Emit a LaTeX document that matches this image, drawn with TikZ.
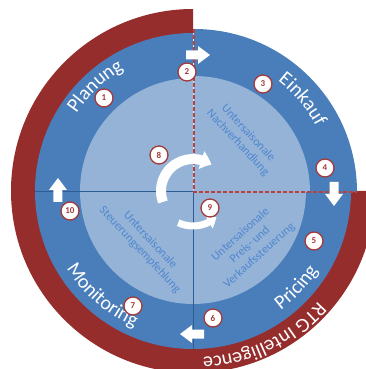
\documentclass[tikz,border=0pt]{standalone}
\usepackage{fontspec}
\setmainfont{Carlito}
\usetikzlibrary{arrows.meta}
\usetikzlibrary{bending}
\usetikzlibrary{decorations.text}

\definecolor{blueout}{HTML}{4A7EBB}
\definecolor{bluein}{HTML}{95B3D7}
\definecolor{ringred}{HTML}{962D2D}
\definecolor{divline}{HTML}{2E5D93}
\definecolor{dashred}{HTML}{B8403D}
\definecolor{innerblue}{HTML}{4F86CF}
\definecolor{numred}{HTML}{A33A3A}

\newcommand{\ringfont}{\fontsize{20}{24}\selectfont}

\begin{document}
\begin{tikzpicture}[x=1pt,y=1pt,
  num/.style={circle, draw=numred, line width=1.3pt, fill=white, inner sep=0pt, minimum size=18pt, text=numred, font=\fontsize{9}{9}\selectfont\bfseries},
  innertext/.style={text=innerblue, align=center, font=\fontsize{12}{14}\selectfont},
  ringtext/.style={decorate, decoration={text along path, text align=center, text color=white, text={#1}}}
]
\useasboundingbox (-193,-178) rectangle (173,191);
\clip (-193,-178) rectangle (173,191);

% red ring
\fill[ringred] (90:182pt) arc[start angle=90, end angle=360, radius=182pt] -- (0:156pt) arc[start angle=360, end angle=90, radius=156pt] -- cycle;

% quadrants
\fill[blueout] (0,0) -- (90:158pt) arc[start angle=90, end angle=360, radius=158pt] -- cycle;
\fill[blueout] (1,-1) -- ++(163,0) arc[start angle=0, end angle=90, radius=163pt] -- cycle;
\fill[bluein] (0,0) -- (90:113pt) arc[start angle=90, end angle=360, radius=113pt] -- cycle;
\fill[bluein] (1,-1) -- ++(116,0) arc[start angle=0, end angle=90, radius=116pt] -- cycle;

\draw[divline, line width=0.8pt] (-158,0) -- (0,0) -- (0,-158);
\draw[dashred, line width=1.2pt, dash pattern=on 4pt off 2pt] (1,162) -- (1,-1) -- (164,-1);

% ring labels
\path[ringtext={|\ringfont|Planung}] (168:140pt) arc[start angle=168, end angle=98, radius=140pt];
\path[ringtext={|\ringfont|Einkauf}] (75:139pt) arc[start angle=75, end angle=5, radius=139pt];
\path[ringtext={|\ringfont|Pricing}] (-78:148pt) arc[start angle=-78, end angle=-8, radius=148pt];
\path[ringtext={|\ringfont|Monitoring}] (194:148pt) arc[start angle=194, end angle=264, radius=148pt];
\path[ringtext={|\ringfont|RTG Intelligence}] (-28:167pt) arc[start angle=-28, end angle=-100, radius=167pt];

% inner labels
\node[innertext, rotate=-47] (nach) at (50,53) {Untersaisonale\\Nachverhandlung};
\node[innertext, rotate=-47] (steu) at (-48,-54) {Untersaisonale\\Steuerungsempfehlung};
\node[innertext, rotate=42] (preis) at (57,-54) {Untersaisonale\\Preis- und\\Verkaufssteuerung};

% block arrows
\foreach \x/\y/\r in {5/136/0, 141/-3/-90, -1/-143/180, -135/1/90}
\fill[white, shift={(\x,\y)}, rotate=\r] (-12,-4.5) -- (0,-4.5) -- (0,-9) -- (12,0) -- (0,9) -- (0,4.5) -- (-12,4.5) -- cycle;

% center arrows
\draw[white, line width=10pt, -{Triangle[length=11pt, width=18pt, bend]}] (200:32pt) arc[start angle=200, end angle=55, radius=32pt];
\draw[white, line width=7pt, -{Triangle[length=9pt, width=14pt, bend]}] (245:35pt) arc[start angle=245, end angle=312, radius=35pt];

% numbers
\foreach \i/\p in {1/{(-89,93)}, 2/{(-6,119)}, 3/{(70,107)}, 4/{(132,23)}, 5/{(121,-50)}, 6/{(20,-127)}, 7/{(-60,-115)}, 8/{(-34,36)}, 9/{(17,-17)}, 10/{(-123,-20)}}
\node[num] (n\i) at \p {\i};

\end{tikzpicture}
\end{document}
